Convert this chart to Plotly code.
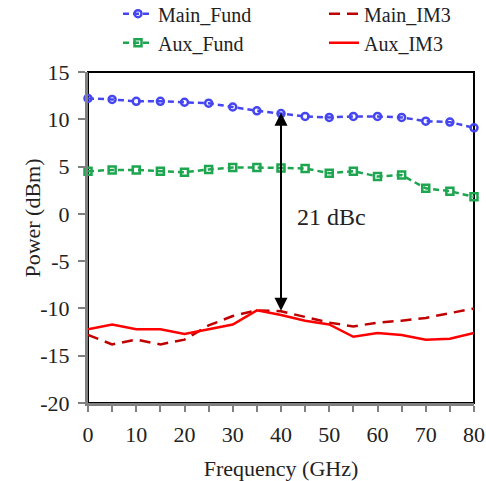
import plotly.graph_objects as go

freq = [0, 5, 10, 15, 20, 25, 30, 35, 40, 45, 50, 55, 60, 65, 70, 75, 80]
main_fund = [12.2, 12.1, 11.9, 11.9, 11.8, 11.7, 11.3, 10.9, 10.6, 10.3, 10.2, 10.3, 10.3, 10.2, 9.8, 9.7, 9.1]
aux_fund = [4.5, 4.65, 4.65, 4.5, 4.4, 4.7, 4.9, 4.9, 4.85, 4.8, 4.3, 4.5, 3.96, 4.1, 2.7, 2.4, 1.8]
main_im3 = [-12.8, -13.8, -13.3, -13.8, -13.3, -11.8, -10.8, -10.2, -10.3, -10.9, -11.5, -11.9, -11.5, -11.3, -11.0, -10.5, -10.0]
aux_im3 = [-12.2, -11.7, -12.2, -12.2, -12.7, -12.2, -11.7, -10.2, -10.7, -11.3, -11.7, -13.0, -12.6, -12.8, -13.3, -13.2, -12.6]

y_tick_vals = [15, 10, 5, 0, -5, -10, -15, -20]
y_tick_text = ["15", "10", "5", "0", "-5", "-10", "-15", "-20"]
x_tick_vals = [0, 10, 20, 30, 40, 50, 60, 70, 80]

arrow_x = 40
arrow_top = 10.7
arrow_bottom = -10.4
label_text = "21 dBc"
x_title = "Frequency (GHz)"
y_title = "Power (dBm)"

FONT = "Liberation Serif"
TXT = "#222222"
BLUE = "#4646F0"
GREEN = "#1EA550"
DARKRED = "#C00000"
RED = "#FF0000"

fig = go.Figure()
fig.add_trace(go.Scatter(x=freq, y=main_fund, name="Main_Fund", mode="lines+markers",
                         line=dict(color=BLUE, width=2.5, dash="6px,4px"),
                         marker=dict(symbol="circle-open", size=7, color=BLUE, line=dict(width=2.5, color=BLUE)),
                         cliponaxis=False, legend="legend"))
fig.add_trace(go.Scatter(x=freq, y=aux_fund, name="Aux_Fund", mode="lines+markers",
                         line=dict(color=GREEN, width=2.5, dash="6px,4px"),
                         marker=dict(symbol="square-open", size=7, color=GREEN, line=dict(width=2.5, color=GREEN)),
                         cliponaxis=False, legend="legend"))
fig.add_trace(go.Scatter(x=freq, y=main_im3, name="Main_IM3", mode="lines",
                         line=dict(color=DARKRED, width=2.5, dash="11px,7px"),
                         cliponaxis=False, legend="legend2"))
fig.add_trace(go.Scatter(x=freq, y=aux_im3, name="Aux_IM3", mode="lines",
                         line=dict(color=RED, width=2.5),
                         cliponaxis=False, legend="legend2"))

fig.add_annotation(x=arrow_x, y=arrow_top, ax=arrow_x, ay=arrow_bottom, xref="x", yref="y",
                   axref="x", ayref="y", text="", showarrow=True, arrowhead=2, arrowside="end+start",
                   arrowsize=1.3, arrowwidth=2, arrowcolor="black", standoff=0, startstandoff=0)
fig.add_annotation(x=50.5, y=-0.3, xref="x", yref="y", text=label_text, showarrow=False,
                   font=dict(family=FONT, size=24, color=TXT))
fig.add_annotation(x=-0.181, y=0.559, xref="paper", yref="paper", text=y_title, showarrow=False,
                   textangle=-90, font=dict(family=FONT, size=22, color=TXT))

fig.add_shape(type="rect", xref="paper", yref="paper", x0=0, y0=0, x1=1, y1=1,
              line=dict(color="black", width=2), layer="below")

axis_font = dict(family=FONT, size=22, color=TXT)
fig.update_xaxes(range=[0, 80], tickmode="array", tickvals=x_tick_vals, showline=True, linecolor="#808080", linewidth=3,
                 ticks="outside", ticklen=6, tickwidth=2, tickcolor="#808080",
                 minor=dict(dtick=5, tick0=0, ticks="outside", ticklen=6, tickwidth=2, tickcolor="#808080"),
                 showgrid=False, zeroline=False, tickfont=axis_font, automargin=False, ticklabelstandoff=4,
                 title=dict(text=x_title, font=dict(family=FONT, size=22, color=TXT)))
fig.update_yaxes(range=[-20, 15], tickmode="array", tickvals=y_tick_vals, ticktext=y_tick_text,
                 showline=True, linecolor="#808080", linewidth=3,
                 ticks="outside", ticklen=7, tickwidth=2, tickcolor="#808080",
                 showgrid=False, zeroline=False, tickfont=axis_font, automargin=False, ticklabelstandoff=4)

leg_font = dict(family=FONT, size=20, color=TXT)
fig.update_layout(
    width=486, height=481,
    margin=dict(l=88, r=12, t=72, b=78, autoexpand=False),
    plot_bgcolor="white", paper_bgcolor="white",
    font=dict(family=FONT, color=TXT),
    legend=dict(xref="container", yref="paper", x=118/486, y=1.235, xanchor="left", yanchor="top",
                font=leg_font, bgcolor="rgba(0,0,0,0)", orientation="v", itemwidth=30, tracegroupgap=0),
    legend2=dict(xref="container", yref="paper", x=324/486, y=1.235, xanchor="left", yanchor="top",
                 font=leg_font, bgcolor="rgba(0,0,0,0)", orientation="v", itemwidth=30, tracegroupgap=0),
)

fig.write_html("out.html", config={"displayModeBar": False},
               post_script="document.body.style.margin='0px';")
